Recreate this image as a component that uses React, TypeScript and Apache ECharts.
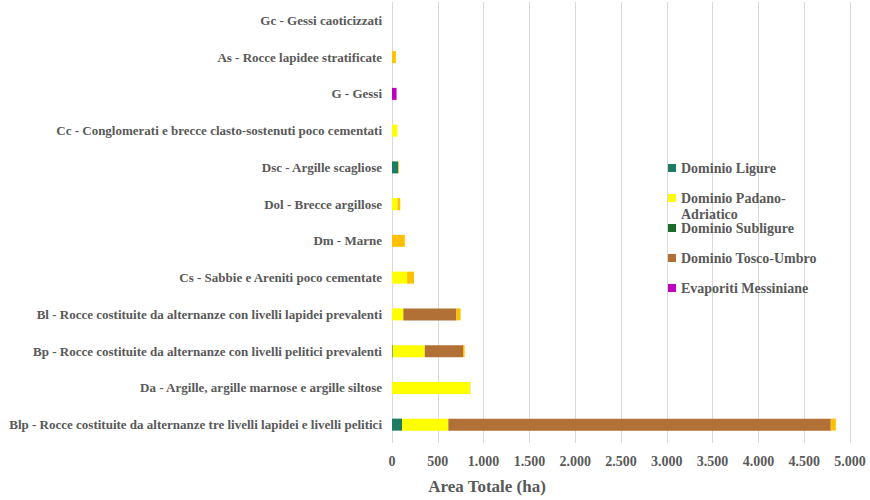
import React, { useEffect, useRef } from "react";
import * as echarts from "echarts";

// Categories listed from the bottom of the chart to the top
const categories = [
  "Blp - Rocce costituite da alternanze tre livelli lapidei e livelli pelitici",
  "Da - Argille, argille marnose e argille siltose",
  "Bp - Rocce costituite da alternanze con livelli pelitici prevalenti",
  "Bl - Rocce costituite da alternanze con livelli lapidei prevalenti",
  "Cs - Sabbie e Areniti poco cementate",
  "Dm - Marne",
  "Dol - Brecce argillose",
  "Dsc - Argille scagliose",
  "Cc - Conglomerati e brecce clasto-sostenuti poco cementati",
  "G - Gessi",
  "As - Rocce lapidee stratificate",
  "Gc - Gessi caoticizzati",
];

const dominioLigure = [110, 0, 8, 0, 0, 0, 0, 68, 0, 0, 0, 0];
const dominioPadano = [505, 850, 350, 124, 165, 0, 60, 0, 58, 0, 0, 0];
const dominioSubligure = [0, 0, 0, 0, 0, 0, 0, 0, 0, 0, 0, 0];
const dominioToscoUmbro = [4175, 0, 417, 580, 0, 0, 0, 0, 0, 0, 0, 0];
const evaporitiMessiniane = [0, 0, 0, 0, 0, 0, 0, 0, 0, 50, 0, 0];
const altriDomini = [55, 5, 18, 45, 75, 140, 30, 8, 0, 0, 42, 0];

const xTicks = { min: 0, max: 5000, interval: 500 };

const FONT = "Liberation Serif";
const TEXT = "#595959";

const seriesDefs = [
  { name: "Dominio Ligure", color: "#1f7a64", data: dominioLigure },
  { name: "Dominio Padano-Adriatico", color: "#ffff00", data: dominioPadano },
  { name: "Dominio Subligure", color: "#1b6a2c", data: dominioSubligure },
  { name: "Dominio Tosco-Umbro", color: "#b07036", data: dominioToscoUmbro },
  { name: "Evaporiti Messiniane", color: "#c000c0", data: evaporitiMessiniane },
  { name: "Altri domini", color: "#ffc000", data: altriDomini },
];

// Legend entries and the vertical position of each one
const legendNames = seriesDefs.slice(0, 5).map((s) => s.name);
const legendTops = [155, 169, 215, 245, 275];
const WRAPPED = "Dominio Padano-Adriatico";

export default function App() {
  const ref = useRef<HTMLDivElement>(null);

  useEffect(() => {
    if (!ref.current) return;
    const chart = echarts.init(ref.current, undefined, { renderer: "svg" });

    // The wrapped entry gets an empty first line so that its first text
    // line sits level with the swatch and the second hangs below it.
    const legends = legendNames.map((name, i) => ({
      data: [name],
      left: 663,
      top: legendTops[i],
      orient: "vertical" as const,
      itemWidth: 8,
      itemHeight: 8,
      itemGap: 0,
      icon: "rect",
      formatter: (n: string) =>
        n === WRAPPED ? " \nDominio Padano-\nAdriatico" : n,
      textStyle: {
        fontFamily: FONT,
        fontWeight: "bold" as const,
        fontSize: 14,
        color: TEXT,
        lineHeight: 16,
      },
    }));

    chart.setOption({
      animation: false,
      legend: legends,
      grid: { left: 392, right: 20, top: 2, bottom: 52, containLabel: false },
      xAxis: {
        type: "value",
        min: xTicks.min,
        max: xTicks.max,
        interval: xTicks.interval,
        name: "Area Totale (ha)",
        nameLocation: "middle",
        nameGap: 35,
        nameTextStyle: {
          fontFamily: FONT,
          fontWeight: "bold",
          fontSize: 17,
          color: TEXT,
          padding: [0, 268, 0, 0],
        },
        axisLine: { show: false },
        axisTick: { show: false },
        axisLabel: {
          fontFamily: FONT,
          fontWeight: "bold",
          fontSize: 14,
          color: TEXT,
          margin: 11,
          formatter: (v: number) => v.toLocaleString("de-DE"),
        },
        splitLine: { show: true, lineStyle: { color: "#d9d9d9", width: 1 } },
      },
      yAxis: {
        type: "category",
        data: categories,
        axisLine: { show: false },
        axisTick: { show: false },
        axisLabel: {
          fontFamily: FONT,
          fontWeight: "bold",
          fontSize: 13,
          color: TEXT,
          margin: 10,
        },
      },
      series: seriesDefs.map((s) => ({
        name: s.name,
        type: "bar",
        stack: "total",
        data: s.data,
        barWidth: 12,
        itemStyle: { color: s.color },
      })),
    });

    return () => chart.dispose();
  }, []);

  return (
    <div
      ref={ref}
      style={{ position: "absolute", left: 0, top: 0, width: 870, height: 500 }}
    />
  );
}
